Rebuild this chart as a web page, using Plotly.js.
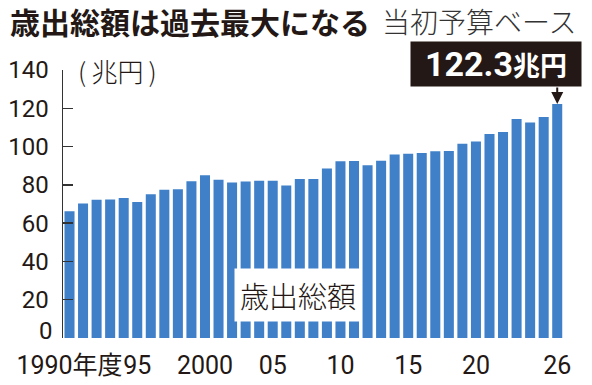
<!DOCTYPE html>
<html>
<head>
<meta charset="utf-8">
<script src="https://cdn.plot.ly/plotly-3.0.1.min.js"></script>
<style>html,body{margin:0;padding:0;background:#fff;}#chart{width:592px;height:385px;}</style>
</head>
<body>
<div id="chart"></div>
<script>
// 一般会計当初予算 歳出総額（兆円）
const years = [1990,1991,1992,1993,1994,1995,1996,1997,1998,1999,
               2000,2001,2002,2003,2004,2005,2006,2007,2008,2009,
               2010,2011,2012,2013,2014,2015,2016,2017,2018,2019,
               2020,2021,2022,2023,2024,2025,2026];
const totals = [66.2,70.3,72.2,72.4,73.1,71.0,75.1,77.4,77.7,81.9,
                85.0,82.7,81.2,81.8,82.1,82.2,79.7,83.0,83.1,88.5,
                92.3,92.4,90.3,92.6,95.9,96.3,96.7,97.5,97.7,101.5,
                102.7,106.6,107.6,114.4,112.6,115.5,122.3];
const tickYears = [1990,1995,2000,2005,2010,2015,2020,2026];
const tickLabels = ['1990年度','95','2000','05','10','15','20','26'];
const yTicks = [0,20,40,60,80,100,120,140];
const yTickLabels = ['','20','40','60','80','100','120','140'];
const zeroLabel = '0';

const titleText = '歳出総額は過去最大になる';
const subtitleText = '当初予算ベース';
const unitText = '(\u2009兆円\u2009)';
const seriesLabel = '歳出総額';
const lastIdx = totals.length - 1;
const calloutText = totals[lastIdx].toFixed(1) + '<span style="font-size:27px">兆円</span>';

const NUM = 'Roboto, "Noto Sans CJK JP", sans-serif';
const JP = '"Noto Sans CJK JP", "Noto Sans", sans-serif';
const INK = '#231815';

const traces = [
  {
    type: 'bar',
    x: years,
    y: totals,
    marker: {color: '#3f80c9', line: {width: 0}},
    hoverinfo: 'x+y'
  },
  {
    type: 'scatter',
    mode: 'markers',
    x: tickYears,
    y: tickYears.map(() => -3.3),
    marker: {color: INK, size: 5},
    cliponaxis: false,
    hoverinfo: 'skip'
  }
];

const layout = {
  width: 592,
  height: 385,
  margin: {l: 63, r: 28, t: 70, b: 47},
  paper_bgcolor: '#ffffff',
  plot_bgcolor: '#ffffff',
  showlegend: false,
  bargap: 0.26,
  title: {
    text: '<b>' + titleText + '</b>',
    font: {family: JP, size: 30, color: INK, weight: 900},
    x: 10/592, xref: 'container', xanchor: 'left',
    y: 1 - 23/385, yref: 'container', yanchor: 'middle'
  },
  xaxis: {
    range: [1989.52, 2026.5],
    tickmode: 'array',
    tickvals: tickYears,
    ticktext: tickLabels,
    tickangle: 0,
    ticks: '',
    showline: false,
    showgrid: false,
    zeroline: false,
    tickfont: {family: NUM, size: 25, color: INK},
    ticklabelstandoff: 10,
    fixedrange: true
  },
  yaxis: {
    range: [0, 140],
    tickmode: 'array',
    tickvals: yTicks,
    ticktext: yTickLabels,
    ticks: 'inside',
    ticklen: 10,
    tickwidth: 1.5,
    tickcolor: '#333',
    showline: true,
    linecolor: '#333',
    linewidth: 1.5,
    showgrid: false,
    zeroline: false,
    tickfont: {family: NUM, size: 24, color: INK},
    ticklabelstandoff: 8,
    fixedrange: true
  },
  annotations: [
    {
      text: zeroLabel,
      xref: 'paper', yref: 'y',
      x: 0, y: yTicks[0],
      xanchor: 'right', yanchor: 'middle',
      xshift: -8, yshift: 7,
      showarrow: false,
      font: {family: NUM, size: 24, color: INK}
    },
    {
      text: subtitleText,
      xref: 'paper', yref: 'paper',
      x: (380-63)/501, y: (337-21)/267,
      xanchor: 'left', yanchor: 'middle',
      showarrow: false,
      font: {family: JP, size: 28, color: '#333', weight: 300}
    },
    {
      text: unitText,
      xref: 'paper', yref: 'paper',
      x: (76-63)/501, y: 1.0,
      xanchor: 'left', yanchor: 'middle',
      showarrow: false,
      font: {family: JP, size: 26, color: INK, weight: 300}
    },
    {
      text: seriesLabel,
      xref: 'paper', yref: 'paper',
      x: (298-63)/501, y: (337-294)/267,
      xanchor: 'center', yanchor: 'middle',
      showarrow: false,
      bgcolor: '#ffffff',
      borderpad: 5,
      font: {family: JP, size: 29, color: INK, weight: 300}
    },
    {
      text: '',
      x: years[lastIdx], y: totals[lastIdx],
      xref: 'x', yref: 'y',
      showarrow: true,
      ax: 0, ay: -18,
      arrowhead: 2, arrowsize: 1.2, arrowwidth: 2,
      arrowcolor: INK,
      standoff: 0
    },
    {
      text: calloutText,
      x: years[lastIdx], y: totals[lastIdx],
      xref: 'x', yref: 'y',
      xanchor: 'right', yanchor: 'bottom',
      xshift: 25, yshift: 17,
      showarrow: false,
      bgcolor: INK,
      width: 166, height: 40,
      borderpad: 2,
      align: 'center', valign: 'middle',
      font: {family: NUM, size: 34, color: '#ffffff', weight: 700}
    }
  ]
};

Plotly.newPlot('chart', traces, layout, {displayModeBar: false, staticPlot: true});
</script>
</body>
</html>
